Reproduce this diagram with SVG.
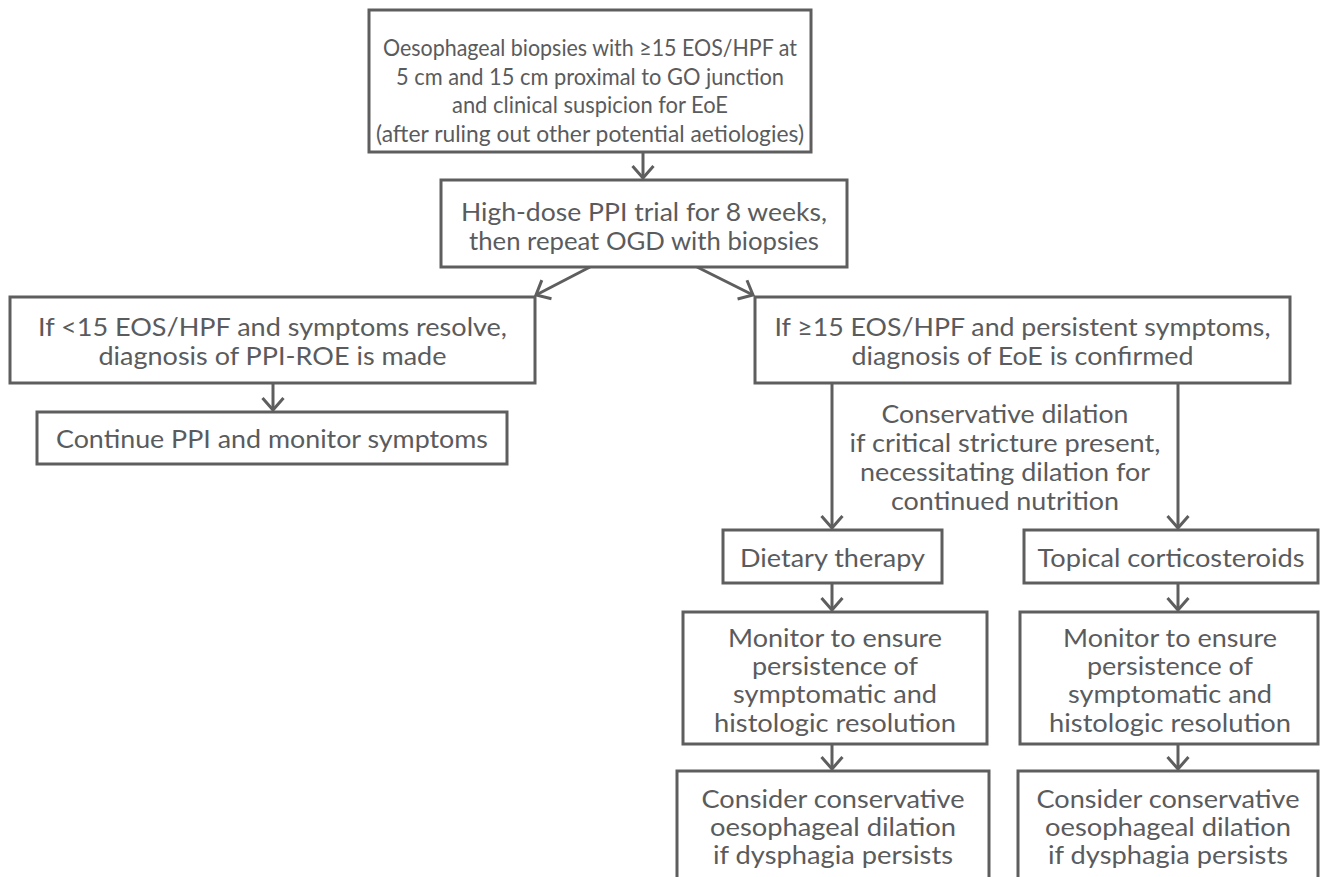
<svg xmlns="http://www.w3.org/2000/svg" width="1320" height="877" viewBox="0 0 1320 877">
<style>
.box{fill:#fff;stroke:#5e5e5e;stroke-width:3}
.t{font-family:Lato,"Open Sans","Liberation Sans",sans-serif;font-size:24.5px;fill:#5a5b5d;text-anchor:middle;dominant-baseline:central}
.s{font-size:23px}
.c{fill:none;stroke:#5e5e5e;stroke-width:3}
</style>
<defs>
<marker id="ah" viewBox="-15 -14 17 28" refX="0" refY="0" markerWidth="17" markerHeight="28" orient="auto" markerUnits="userSpaceOnUse">
<path d="M-12,-10.5 L0,0 L-12,10.5" fill="none" stroke="#5e5e5e" stroke-width="3"/>
</marker>
</defs>
<rect width="1320" height="877" fill="#fff"/>
<g id="connectors">
<line class="c" x1="643" y1="152" x2="643" y2="178" marker-end="url(#ah)"/>
<line class="c" x1="590" y1="267" x2="536" y2="295" marker-end="url(#ah)"/>
<line class="c" x1="697" y1="267" x2="753" y2="295" marker-end="url(#ah)"/>
<line class="c" x1="273" y1="383" x2="273" y2="410" marker-end="url(#ah)"/>
<line class="c" x1="832" y1="383" x2="832" y2="528" marker-end="url(#ah)"/>
<line class="c" x1="1178" y1="383" x2="1178" y2="528" marker-end="url(#ah)"/>
<line class="c" x1="832" y1="583" x2="832" y2="610" marker-end="url(#ah)"/>
<line class="c" x1="1178" y1="583" x2="1178" y2="610" marker-end="url(#ah)"/>
<line class="c" x1="832" y1="744" x2="832" y2="769" marker-end="url(#ah)"/>
<line class="c" x1="1178" y1="744" x2="1178" y2="769" marker-end="url(#ah)"/>
</g>
<g id="n1">
<rect class="box" x="369" y="10" width="442" height="142"/>
<text class="t s" x="590" y="47" textLength="414" lengthAdjust="spacingAndGlyphs">Oesophageal biopsies with ≥15 EOS/HPF at</text>
<text class="t s" x="590" y="76" textLength="388" lengthAdjust="spacingAndGlyphs">5 cm and 15 cm proximal to GO junction</text>
<text class="t s" x="590" y="104" textLength="276" lengthAdjust="spacingAndGlyphs">and clinical suspicion for EoE</text>
<text class="t s" x="590" y="133" textLength="428" lengthAdjust="spacingAndGlyphs">(after ruling out other potential aetiologies)</text>
</g>
<g id="n2">
<rect class="box" x="441" y="180" width="406" height="87"/>
<text class="t" x="644" y="211" textLength="366" lengthAdjust="spacingAndGlyphs">High-dose PPI trial for 8 weeks,</text>
<text class="t" x="644" y="240" textLength="350" lengthAdjust="spacingAndGlyphs">then repeat OGD with biopsies</text>
</g>
<g id="n3">
<rect class="box" x="10" y="297" width="525" height="86"/>
<text class="t" x="272.5" y="326" textLength="469" lengthAdjust="spacingAndGlyphs">If &lt;15 EOS/HPF and symptoms resolve,</text>
<text class="t" x="272.5" y="355" textLength="348" lengthAdjust="spacingAndGlyphs">diagnosis of PPI-ROE is made</text>
</g>
<g id="n4">
<rect class="box" x="37" y="412" width="470" height="52"/>
<text class="t" x="272" y="438" textLength="432" lengthAdjust="spacingAndGlyphs">Continue PPI and monitor symptoms</text>
</g>
<g id="n5">
<rect class="box" x="755" y="297" width="535" height="86"/>
<text class="t" x="1022.5" y="326" textLength="496" lengthAdjust="spacingAndGlyphs">If ≥15 EOS/HPF and persistent symptoms,</text>
<text class="t" x="1022.5" y="355" textLength="342" lengthAdjust="spacingAndGlyphs">diagnosis of EoE is confirmed</text>
</g>
<g id="label">
<text class="t" x="1005" y="413" textLength="247" lengthAdjust="spacingAndGlyphs">Conservative dilation</text>
<text class="t" x="1005" y="442" textLength="311" lengthAdjust="spacingAndGlyphs">if critical stricture present,</text>
<text class="t" x="1005" y="471" textLength="290" lengthAdjust="spacingAndGlyphs">necessitating dilation for</text>
<text class="t" x="1005" y="500" textLength="228" lengthAdjust="spacingAndGlyphs">continued nutrition</text>
</g>
<g id="n6">
<rect class="box" x="723" y="530" width="219" height="53"/>
<text class="t" x="832.5" y="557" textLength="185" lengthAdjust="spacingAndGlyphs">Dietary therapy</text>
</g>
<g id="n7">
<rect class="box" x="1024" y="530" width="294" height="53"/>
<text class="t" x="1171" y="557" textLength="267" lengthAdjust="spacingAndGlyphs">Topical corticosteroids</text>
</g>
<g id="n8">
<rect class="box" x="683" y="612" width="304" height="132"/>
<text class="t" x="835" y="637" textLength="214" lengthAdjust="spacingAndGlyphs">Monitor to ensure</text>
<text class="t" x="835" y="665" textLength="166" lengthAdjust="spacingAndGlyphs">persistence of</text>
<text class="t" x="835" y="693" textLength="204" lengthAdjust="spacingAndGlyphs">symptomatic and</text>
<text class="t" x="835" y="722" textLength="242" lengthAdjust="spacingAndGlyphs">histologic resolution</text>
</g>
<g id="n9">
<rect class="box" x="1020" y="612" width="298" height="132"/>
<text class="t" x="1170" y="637" textLength="214" lengthAdjust="spacingAndGlyphs">Monitor to ensure</text>
<text class="t" x="1170" y="665" textLength="166" lengthAdjust="spacingAndGlyphs">persistence of</text>
<text class="t" x="1170" y="693" textLength="204" lengthAdjust="spacingAndGlyphs">symptomatic and</text>
<text class="t" x="1170" y="722" textLength="242" lengthAdjust="spacingAndGlyphs">histologic resolution</text>
</g>
<g id="n10">
<rect class="box" x="677" y="771" width="312" height="130"/>
<text class="t" x="833" y="798" textLength="263" lengthAdjust="spacingAndGlyphs">Consider conservative</text>
<text class="t" x="833" y="826" textLength="246" lengthAdjust="spacingAndGlyphs">oesophageal dilation</text>
<text class="t" x="833" y="854" textLength="240" lengthAdjust="spacingAndGlyphs">if dysphagia persists</text>
</g>
<g id="n11">
<rect class="box" x="1018" y="771" width="300" height="130"/>
<text class="t" x="1168" y="798" textLength="263" lengthAdjust="spacingAndGlyphs">Consider conservative</text>
<text class="t" x="1168" y="826" textLength="246" lengthAdjust="spacingAndGlyphs">oesophageal dilation</text>
<text class="t" x="1168" y="854" textLength="240" lengthAdjust="spacingAndGlyphs">if dysphagia persists</text>
</g>
</svg>
